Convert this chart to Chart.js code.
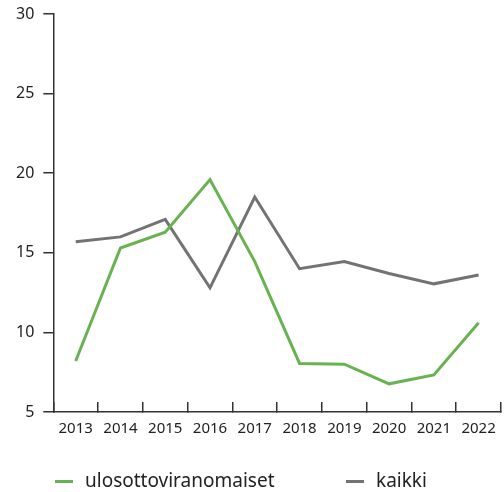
<!DOCTYPE html>
<html>
<head>
<meta charset="utf-8">
<script src="https://cdn.jsdelivr.net/npm/chart.js@4"></script>
<style>
  body { margin: 0; background: #fff; }
  #wrap { position: relative; width: 504px; height: 492px; }
  #legend { position: absolute; left: 55px; top: 468px; font: 19px "Noto Sans", sans-serif; line-height: 24px; color: #222; white-space: nowrap; }
  .item { display: inline-block; min-width: 291px; }
  .swatch { display: inline-block; width: 18px; height: 3px; vertical-align: middle; margin-right: 12px; }
</style>
</head>
<body>
<div id="wrap">
  <canvas id="chart" width="504" height="492"></canvas>
  <div id="legend"></div>
</div>
<script>
// values
var years = ['2013', '2014', '2015', '2016', '2017', '2018', '2019', '2020', '2021', '2022'];
var ulosotto = [8.2, 15.3, 16.3, 19.6, 14.45, 8.05, 8.0, 6.77, 7.33, 10.6];
var kaikki = [15.7, 16.0, 17.1, 12.8, 18.5, 14.0, 14.45, 13.7, 13.05, 13.6];
var seriesNames = ['ulosottoviranomaiset', 'kaikki'];
var seriesColors = ['#69b252', '#737373'];

var axisColor = '#333';

// chart.js pads the area for the outer tick labels, we place the area ourselves
function noEdgePadding(scale) {
  scale.paddingLeft = 0;
  scale.paddingRight = 0;
  scale.paddingTop = 0;
  scale.paddingBottom = 0;
}

var chart = new Chart(document.getElementById('chart'), {
  type: 'line',
  data: {
    labels: years,
    datasets: [
      { label: seriesNames[0], data: ulosotto, borderColor: seriesColors[0], borderWidth: 3, pointRadius: 0, tension: 0 },
      { label: seriesNames[1], data: kaikki, borderColor: seriesColors[1], borderWidth: 3, pointRadius: 0, tension: 0 }
    ]
  },
  options: {
    responsive: false,
    animation: false,
    layout: { padding: { left: 7, right: 3, top: 14, bottom: 36 } },
    plugins: { legend: { display: false }, tooltip: { enabled: false } },
    scales: {
      x: {
        offset: true,
        afterFit: noEdgePadding,
        grid: { offset: true, drawOnChartArea: false, tickLength: -10, color: axisColor, lineWidth: 1.5 },
        border: { color: axisColor, width: 1.5 },
        ticks: { color: '#222', font: { family: 'Noto Sans', size: 15 }, padding: 18, maxRotation: 0 }
      },
      y: {
        min: 5, max: 30,
        afterFit: noEdgePadding,
        grid: { drawOnChartArea: false, tickLength: 10, color: axisColor, lineWidth: 1.5 },
        border: { color: axisColor, width: 1.5 },
        ticks: { stepSize: 5, color: '#222', font: { family: 'Noto Sans', size: 16 }, padding: 9 }
      }
    }
  }
});

// html legend built from the datasets
var legend = document.getElementById('legend');
chart.data.datasets.forEach(function(ds) {
  var item = document.createElement('span');
  item.className = 'item';
  var sw = document.createElement('span');
  sw.className = 'swatch';
  sw.style.background = ds.borderColor;
  item.appendChild(sw);
  item.appendChild(document.createTextNode(ds.label));
  legend.appendChild(item);
});
</script>
</body>
</html>
